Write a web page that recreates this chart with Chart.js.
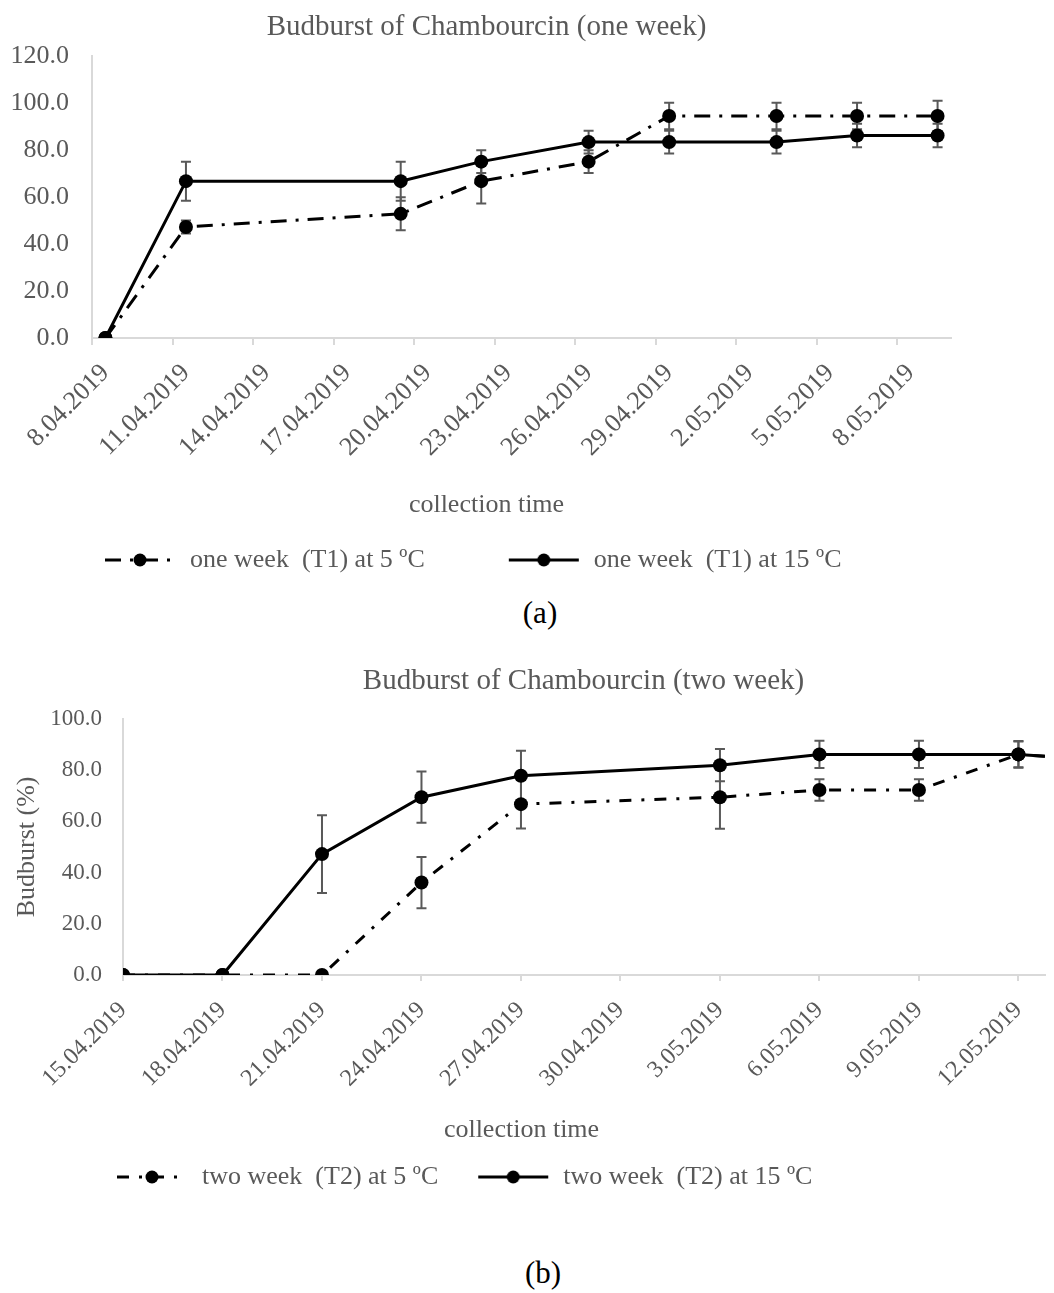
<!DOCTYPE html>
<html>
<head>
<meta charset="utf-8">
<script src="https://cdn.jsdelivr.net/npm/chart.js@4.4.1/dist/chart.umd.min.js"></script>
<style>
  body { margin: 0; background: #fff; width: 1054px; height: 1293px; position: relative; overflow: hidden;
         font-family: 'Liberation Serif', 'Times New Roman', serif; }
  .box { position: absolute; left: 0; width: 1054px; }
  .cap { position: absolute; font-size: 31px; line-height: 36px; color: #000; transform: translateX(-50%); }
</style>
</head>
<body>
<div class="box" style="top:0;height:590px"><canvas id="oneWeekChart"></canvas></div>
<div class="cap" style="left:540px;top:595px">(a)</div>
<div class="box" style="top:640px;height:570px"><canvas id="twoWeekChart"></canvas></div>
<div class="cap" style="left:543px;top:1255px">(b)</div>
<script>
// Data for charts
const oneWeekDates = ['8.04.2019', '11.04.2019', '19.04.2019', '22.04.2019', '26.04.2019',
  '29.04.2019', '3.05.2019', '6.05.2019', '9.05.2019'];
const oneWeek5 = [0, 47.2, 52.8, 66.7, 75.0, 94.4, 94.4, 94.4, 94.4];
const oneWeek5Err = [0, 2.8, 7.0, 9.5, 4.8, 5.6, 5.6, 5.6, 6.5];
const oneWeek15 = [0, 66.7, 66.7, 75.0, 83.3, 83.3, 83.3, 86.1, 86.1];
const oneWeek15Err = [0, 8.3, 8.3, 4.8, 4.8, 4.8, 4.8, 5.0, 5.0];
const oneWeekTicks = ['8.04.2019', '11.04.2019', '14.04.2019', '17.04.2019', '20.04.2019', '23.04.2019',
  '26.04.2019', '29.04.2019', '2.05.2019', '5.05.2019', '8.05.2019'];

const twoWeekDates = ['15.04.2019', '18.04.2019', '21.04.2019', '24.04.2019', '27.04.2019',
  '3.05.2019', '6.05.2019', '9.05.2019', '12.05.2019', '15.05.2019'];
const twoWeek5 = [0, 0, 0, 36.1, 66.7, 69.4, 72.2, 72.2, 86.1, 83.3];
const twoWeek5Err = [0, 0, 0, 10.0, 9.5, 12.3, 4.2, 4.2, 5.0, 0];
const twoWeek15 = [0, 0, 47.2, 69.4, 77.8, 81.9, 86.1, 86.1, 86.1, 83.3];
const twoWeek15Err = [0, 0, 15.2, 10.0, 9.7, 6.3, 5.3, 5.3, 5.2, 0];
const twoWeekTicks = ['15.04.2019', '18.04.2019', '21.04.2019', '24.04.2019', '27.04.2019', '30.04.2019',
  '3.05.2019', '6.05.2019', '9.05.2019', '12.05.2019'];

const GREY = '#595959';
const AXIS = '#d9d9d9';
Chart.defaults.font.family = "'Liberation Serif', 'Times New Roman', serif";
Chart.defaults.color = GREY;

// day number of a d.mm.yyyy string
function dayOf(s) {
  const [d, m, y] = s.split('.').map(Number);
  return Date.UTC(y, m - 1, d) / 86400000;
}
function points(dates, values) {
  return dates.map((d, i) => ({ x: dayOf(d), y: values[i] }));
}

// little line + marker picture used as legend symbol
function legendSample(dash, boxW) {
  const c = document.createElement('canvas');
  c.width = boxW;
  c.height = 18;
  const g = c.getContext('2d');
  const end = boxW - 2, start = end - 70, mid = (start + end) / 2;
  g.strokeStyle = '#000';
  g.lineWidth = 3;
  g.setLineDash(dash);
  g.beginPath();
  g.moveTo(start, 9);
  g.lineTo(end, 9);
  g.stroke();
  g.setLineDash([]);
  g.fillStyle = '#000';
  g.beginPath();
  g.arc(mid, 9, 6.5, 0, Math.PI * 2);
  g.fill();
  return c;
}

// error bars from each dataset's errors array
const errorBars = {
  id: 'errorBars',
  beforeDatasetsDraw(chart) {
    const { ctx, scales: { x, y } } = chart;
    ctx.save();
    ctx.strokeStyle = GREY;
    ctx.lineWidth = 2;
    chart.data.datasets.forEach(ds => {
      ds.data.forEach((p, i) => {
        const e = ds.errors[i];
        if (!e) return;
        const px = x.getPixelForValue(p.x);
        const hi = y.getPixelForValue(p.y + e);
        const lo = y.getPixelForValue(p.y - e);
        ctx.beginPath();
        ctx.moveTo(px, hi); ctx.lineTo(px, lo);
        ctx.moveTo(px - 5, hi); ctx.lineTo(px + 5, hi);
        ctx.moveTo(px - 5, lo); ctx.lineTo(px + 5, lo);
        ctx.stroke();
      });
    });
    ctx.restore();
  }
};

// shift title / subtitle / legend sideways after layout
const nudge = {
  id: 'nudge',
  afterLayout(chart, args, opts) {
    const title = chart.titleBlock;
    chart.boxes.forEach(b => {
      let dx = 0;
      if (b === chart.legend) dx = opts.legend || 0;
      else if (b === title) dx = opts.title || 0;
      else if (title && b.constructor === title.constructor) dx = opts.subtitle || 0;
      b.left += dx;
      b.right += dx;
    });
  }
};

function legendOptions(boxW) {
  return {
    position: 'bottom',
    align: 'start',
    labels: {
      usePointStyle: true,
      pointStyleWidth: boxW,
      padding: 10,
      color: GREY,
      font: { size: 26 },
      generateLabels: chart => chart.data.datasets.map((ds, i) => ({
        text: ds.label,
        pointStyle: legendSample(ds.borderDash || [], boxW),
        datasetIndex: i,
        hidden: false,
        lineWidth: 0,
        fillStyle: 'transparent',
        strokeStyle: 'transparent',
        fontColor: GREY
      }))
    }
  };
}

function series(label, data, errors, dash) {
  return {
    label,
    data,
    errors,
    borderColor: '#000',
    backgroundColor: '#000',
    borderWidth: 3,
    borderDash: dash,
    pointRadius: 7,
    pointBorderWidth: 0,
    pointBackgroundColor: '#000',
    tension: 0,
    fill: false
  };
}

// One week chart
const oneMin = dayOf(oneWeekDates[0]) - 0.5;
const oneMax = dayOf(oneWeekDates[oneWeekDates.length - 1]) + 0.5;
new Chart(document.getElementById('oneWeekChart'), {
  type: 'line',
  data: {
    datasets: [
      series('one week  (T1) at 5 ºC', points(oneWeekDates, oneWeek5), oneWeek5Err, [16, 9, 3, 9]),
      series('one week  (T1) at 15 ºC', points(oneWeekDates, oneWeek15), oneWeek15Err, [])
    ]
  },
  options: {
    responsive: true,
    maintainAspectRatio: false,
    animation: false,
    layout: { padding: { left: 10, right: 103, top: 0, bottom: 7 } },
    scales: {
      x: {
        type: 'linear',
        min: oneMin,
        max: oneMax,
        afterBuildTicks: s => { s.ticks = oneWeekTicks.map(t => ({ value: dayOf(t) })); },
        ticks: {
          autoSkip: false, maxRotation: 45, minRotation: 45, padding: 13,
          color: GREY, font: { size: 26 },
          callback: (v, i) => oneWeekTicks[i]
        },
        grid: { display: false, drawTicks: false },
        border: { display: false }
      },
      xMarks: {
        type: 'linear',
        position: 'bottom',
        weight: -1,
        min: oneMin,
        max: oneMax,
        afterBuildTicks: s => { s.ticks = oneWeekTicks.map(t => ({ value: dayOf(t) - 0.5 })); },
        ticks: { display: false },
        grid: { drawOnChartArea: false, drawTicks: true, tickLength: 7, color: AXIS, lineWidth: 2 },
        border: { display: true, color: AXIS, width: 2 }
      },
      y: {
        min: 0,
        max: 120,
        afterFit: s => { s.width = 82; },
        ticks: { stepSize: 20, padding: 23, color: GREY, font: { size: 26 }, callback: v => v.toFixed(1) },
        grid: { display: false, drawTicks: false },
        border: { display: true, color: AXIS, width: 2 }
      }
    },
    plugins: {
      title: {
        display: true, text: 'Budburst of Chambourcin (one week)', color: GREY,
        font: { size: 29, weight: 'normal' }, padding: { top: 10, bottom: 11 }
      },
      subtitle: {
        display: true, position: 'bottom', weight: 500, text: 'collection time', color: GREY,
        font: { size: 26, weight: 'normal' }, padding: { top: 14, bottom: 16 }
      },
      legend: legendOptions(146),
      tooltip: { enabled: false },
      nudge: { title: 6, subtitle: 6, legend: 11 }
    }
  },
  plugins: [errorBars, nudge]
});

// Two week chart
new Chart(document.getElementById('twoWeekChart'), {
  type: 'line',
  data: {
    datasets: [
      series('two week  (T2) at 5 ºC', points(twoWeekDates, twoWeek5), twoWeek5Err, [12, 10, 3, 10]),
      series('two week  (T2) at 15 ºC', points(twoWeekDates, twoWeek15), twoWeek15Err, [])
    ]
  },
  options: {
    responsive: true,
    maintainAspectRatio: false,
    animation: false,
    layout: { padding: { left: 5, right: 0, top: 0, bottom: 10 } },
    scales: {
      x: {
        type: 'linear',
        min: dayOf(twoWeekTicks[0]),
        max: dayOf(twoWeekTicks[twoWeekTicks.length - 1]) + 0.8,
        afterBuildTicks: s => { s.ticks = twoWeekTicks.map(t => ({ value: dayOf(t) })); },
        ticks: {
          autoSkip: false, maxRotation: 45, minRotation: 45, padding: 15,
          color: GREY, font: { size: 24 },
          callback: (v, i) => twoWeekTicks[i]
        },
        grid: { drawOnChartArea: false, drawTicks: true, tickLength: 6, color: AXIS, lineWidth: 2 },
        border: { display: true, color: AXIS, width: 2 }
      },
      y: {
        min: 0,
        max: 100,
        afterFit: s => { s.width = 118; },
        title: {
          display: true, text: 'Budburst (%)', color: GREY,
          font: { size: 26 }, padding: { top: 7, bottom: 7 }
        },
        ticks: { stepSize: 20, padding: 21, color: GREY, font: { size: 23 }, callback: v => v.toFixed(1) },
        grid: { display: false, drawTicks: false },
        border: { display: true, color: AXIS, width: 2 }
      }
    },
    plugins: {
      title: {
        display: true, text: 'Budburst of Chambourcin (two week)', color: GREY,
        font: { size: 29, weight: 'normal' }, padding: { top: 24, bottom: 20 }
      },
      subtitle: {
        display: true, position: 'bottom', weight: 500, text: 'collection time', color: GREY,
        font: { size: 26, weight: 'normal' }, padding: { top: 7, bottom: 8 }
      },
      legend: legendOptions(102),
      tooltip: { enabled: false },
      nudge: { title: 54, subtitle: -8, legend: 72 }
    }
  },
  plugins: [errorBars, nudge]
});
</script>
</body>
</html>
